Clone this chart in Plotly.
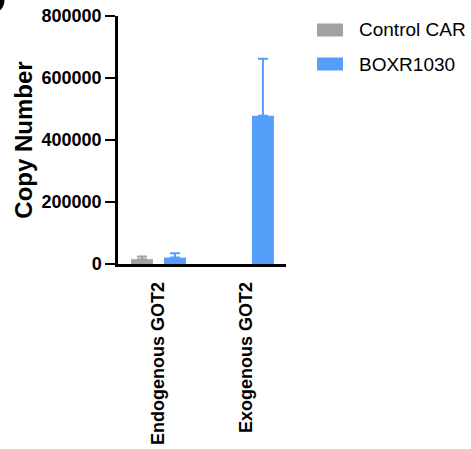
import plotly.graph_objects as go

# Data
categories = ["Endogenous GOT2", "Exogenous GOT2"]
control_car = [15500, None]
control_car_err = [8500, None]
boxr1030 = [20600, 478000]
boxr1030_err = [13700, 184000]
y_ticks = [0, 200000, 400000, 600000, 800000]

GRAY = "#a0a0a5"
BLUE = "#559ffa"
FONT = "Liberation Sans"

fig = go.Figure()
fig.add_trace(go.Bar(
    x=categories, y=control_car, name="Control CAR",
    marker=dict(color=GRAY, line=dict(width=0)),
    error_y=dict(type="data", array=control_car_err, arrayminus=[0, 0],
                 symmetric=False, color=GRAY, thickness=2, width=5),
))
fig.add_trace(go.Bar(
    x=categories, y=boxr1030, name="BOXR1030",
    marker=dict(color=BLUE, line=dict(width=0)),
    error_y=dict(type="data", array=boxr1030_err, arrayminus=[0, 0],
                 symmetric=False, color=BLUE, thickness=2, width=5),
))

W, H = 471, 449
L, R, T, B = 118, 185, 16, 185
pw, ph = W - L - R, H - T - B


def px(x):
    return (x - L) / pw


def py(y):
    return (H - B - y) / ph


# Legend swatches and labels
shapes = []
annotations = []
for i, (name, col) in enumerate([("Control CAR", GRAY), ("BOXR1030", BLUE)]):
    yc = 30 + 34 * i
    shapes.append(dict(type="rect", xref="paper", yref="paper",
                       x0=px(317), x1=px(343), y0=py(yc - 6.5), y1=py(yc + 6.5),
                       fillcolor=col, line=dict(width=0)))
    annotations.append(dict(xref="paper", yref="paper", x=px(357), y=py(yc),
                            xanchor="left", yanchor="middle", showarrow=False,
                            text=name, font=dict(family=FONT, size=19, color="black")))

# Edge of the neighbouring panel's letter in the top-left corner
corner = [(0, 0), (4.5, 0), (4, 4), (2.5, 7.5), (0.5, 10), (0, 10)]
path = "M " + " L ".join(f"{px(x)},{py(y)}" for x, y in corner) + " Z"
shapes.append(dict(type="path", xref="paper", yref="paper", path=path,
                   fillcolor="black", line=dict(width=0)))

fig.update_layout(
    width=W, height=H,
    margin=dict(l=L, r=R, t=T, b=B),
    paper_bgcolor="white", plot_bgcolor="white",
    barmode="group", bargap=0.25, bargroupgap=1 / 3,
    showlegend=False,
    shapes=shapes, annotations=annotations,
    font=dict(family=FONT, color="black"),
)
fig.update_xaxes(
    type="category", range=[-0.46, 1.45], automargin=False,
    tickvals=categories, ticktext=[f"<b>{c}</b>" for c in categories],
    showline=True, linecolor="black", linewidth=2.5,
    ticks="", tickangle=-90, ticklabelstandoff=8,
    tickfont=dict(family=FONT, size=18, color="black"),
    showgrid=False, zeroline=False,
)
fig.update_yaxes(
    range=[0, 800000], automargin=False,
    tickvals=y_ticks, ticktext=[f"<b>{v}</b>" for v in y_ticks],
    showline=True, linecolor="black", linewidth=2.5,
    ticks="outside", ticklen=10, tickwidth=2, tickcolor="black",
    tickfont=dict(family=FONT, size=18, color="black"),
    title=dict(text="<b>Copy Number</b>", standoff=3,
               font=dict(family=FONT, size=24, color="black")),
    showgrid=False, zeroline=False,
)

fig.write_html("out.html")
